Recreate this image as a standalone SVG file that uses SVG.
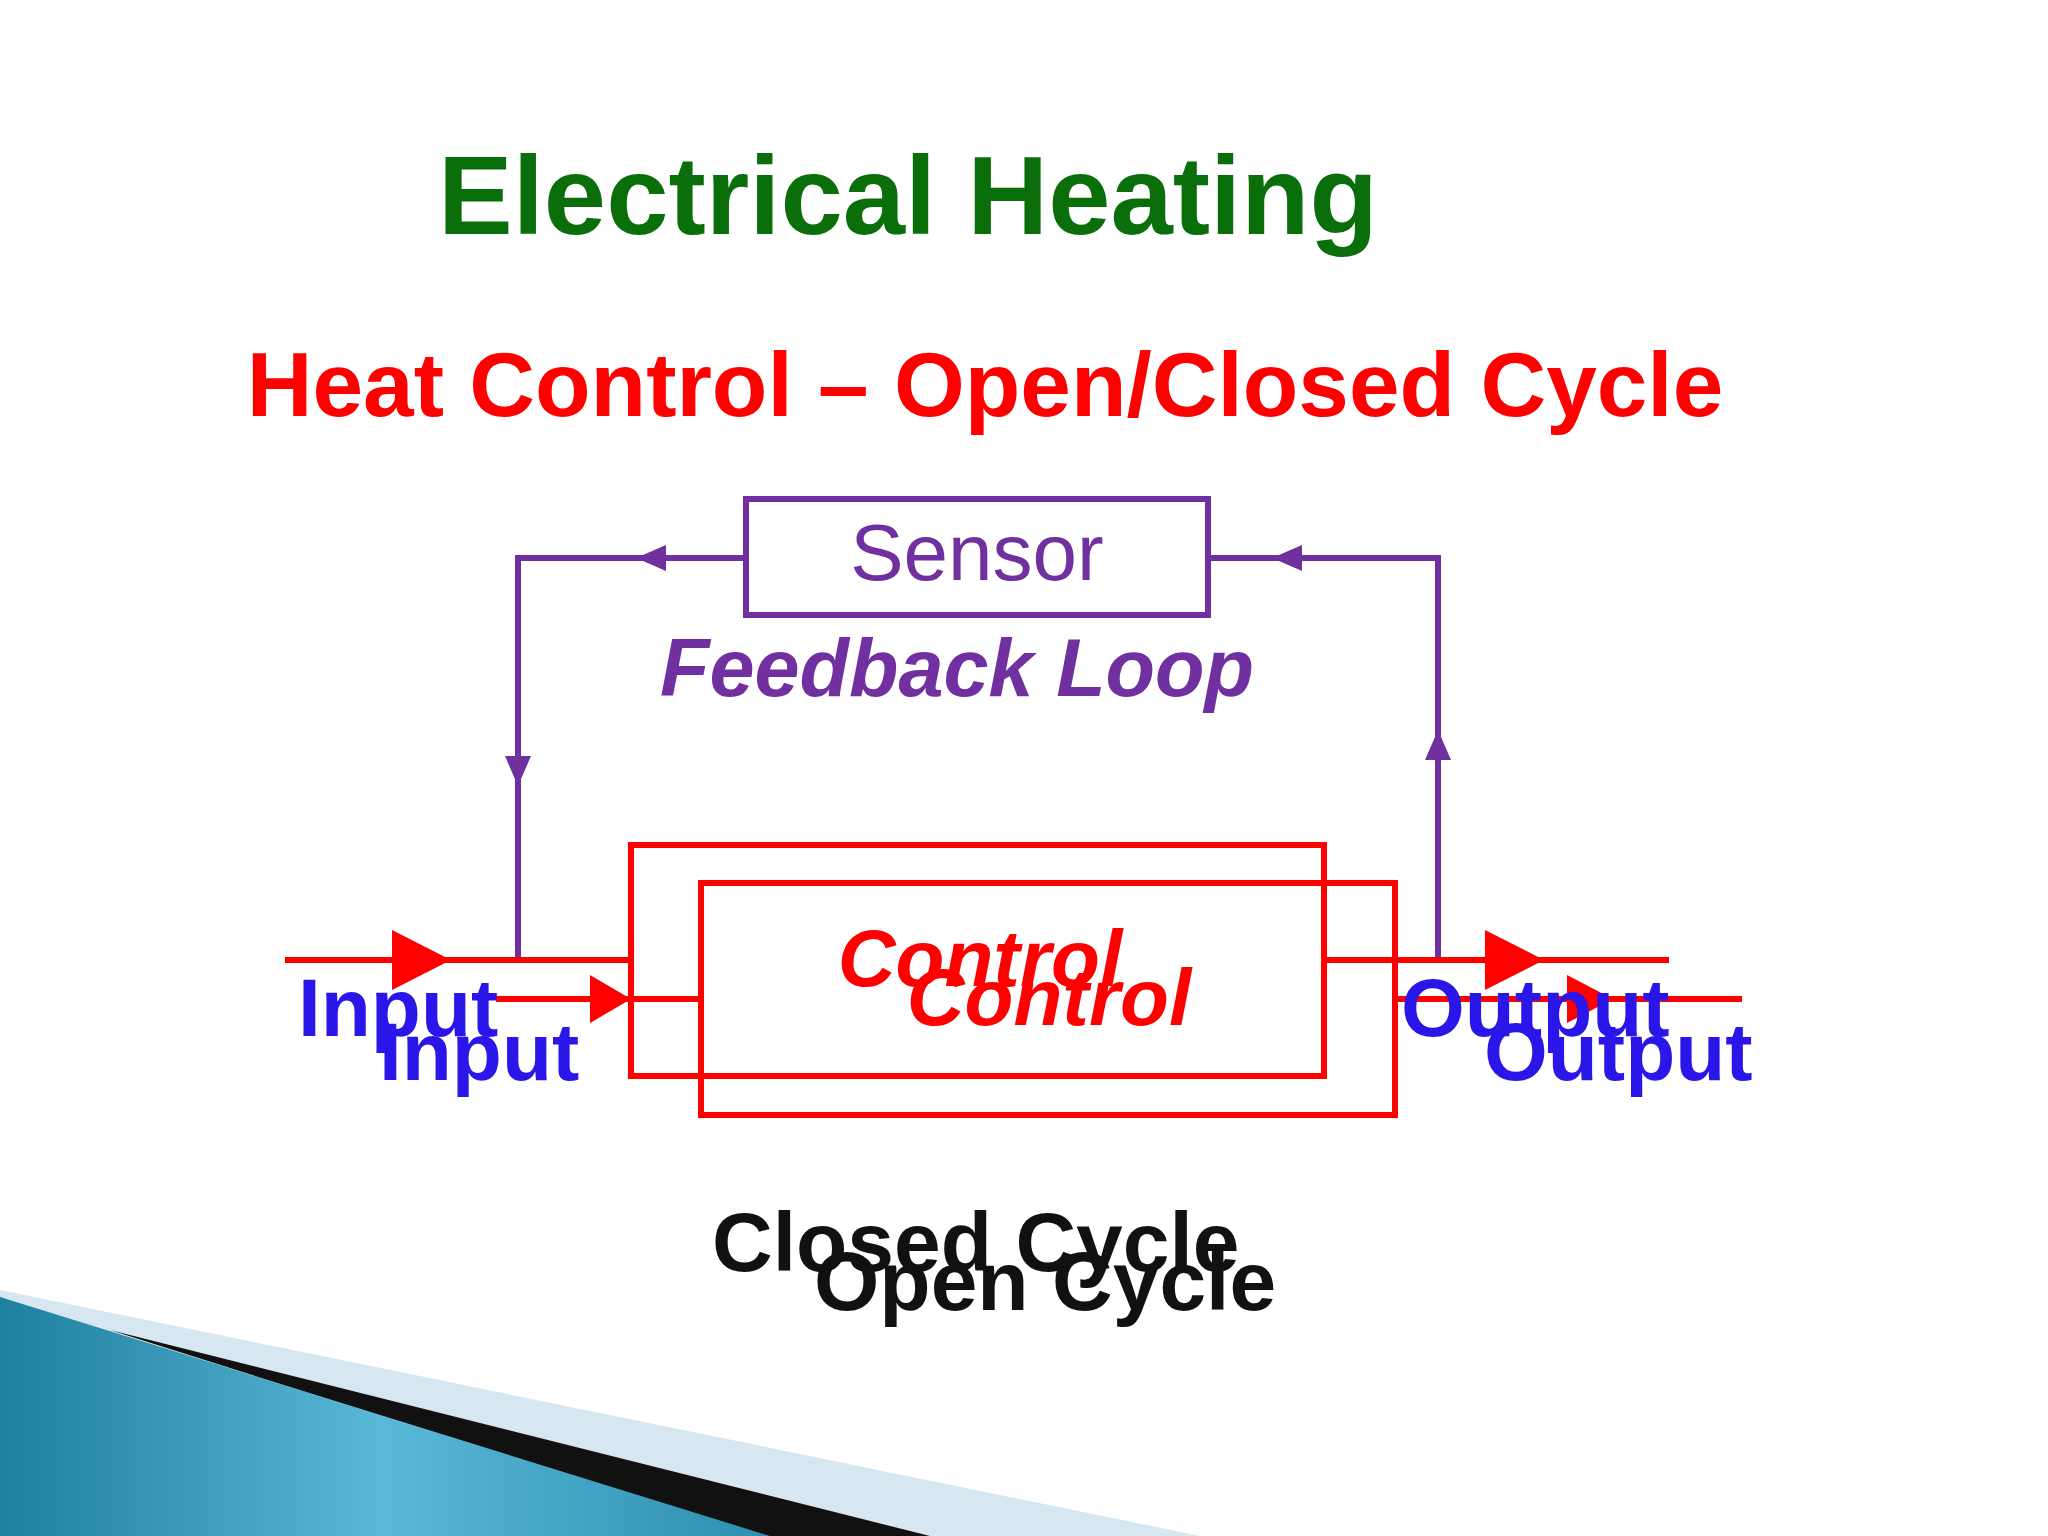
<svg xmlns="http://www.w3.org/2000/svg" width="2048" height="1536" viewBox="0 0 2048 1536">
<defs>
<style>
.p{stroke:#7030a0;stroke-width:6;fill:none}
.r{stroke:#ff0000;stroke-width:6;fill:none}
.t{font-family:"Liberation Sans",Arial,sans-serif;font-weight:bold}
.blue{fill:#2a16e8;font-size:82px}
.ctl{fill:#ff0000;font-size:80px;font-style:italic}
.cyc{fill:#111;font-size:84px}
</style>
<linearGradient id="g" x1="0" y1="0" x2="1" y2="0">
<stop offset="0" stop-color="#1f7f9e"/><stop offset="0.5" stop-color="#5ab8d8"/><stop offset="1" stop-color="#2d8fb0"/>
</linearGradient>
</defs>
<rect width="2048" height="1536" fill="#fff"/>
<polygon points="0,1290 1200,1536 0,1536" fill="#d6e7f2"/>
<polygon points="110,1330 930,1536 760,1536" fill="#111"/>
<polygon points="0,1297 770,1536 0,1536" fill="url(#g)"/>
<text class="t" x="908" y="234" text-anchor="middle" font-size="112" fill="#0a6e0a">Electrical Heating</text>
<text class="t" x="985" y="416" text-anchor="middle" font-size="91" fill="#ff0000">Heat Control – Open/Closed Cycle</text>
<g id="connectors">
<polyline class="p" points="746,558 518,558 518,960"/>
<polyline class="p" points="1208,558 1438,558 1438,960"/>
<polygon points="636,558 666,545 666,571" fill="#7030a0"/>
<polygon points="1272,558 1302,545 1302,571" fill="#7030a0"/>
<polygon points="518,786 505,756 531,756" fill="#7030a0"/>
<polygon points="1438,730 1425,760 1451,760" fill="#7030a0"/>
<line class="r" x1="285" y1="960" x2="631" y2="960"/>
<line class="r" x1="1324" y1="960" x2="1669" y2="960"/>
<polygon points="392,930 451,960 392,990" fill="#ff0000"/>
<polygon points="1485,930 1544,960 1485,990" fill="#ff0000"/>
<line class="r" x1="496" y1="999" x2="701" y2="999"/>
<line class="r" x1="1395" y1="999" x2="1742" y2="999"/>
<polygon points="590,975 631,999 590,1023" fill="#ff0000"/>
<polygon points="1567,975 1613,999 1567,1023" fill="#ff0000"/>
</g>
<g id="sensor">
<rect class="p" x="746" y="499" width="462" height="116" fill="#fff"/>
<text x="977" y="580" text-anchor="middle" font-family="Liberation Sans,Arial,sans-serif" font-size="80" fill="#7030a0">Sensor</text>
</g>
<text class="t" x="957" y="696" text-anchor="middle" font-size="81" font-style="italic" fill="#7030a0">Feedback Loop</text>
<g id="control-closed">
<rect class="r" x="631" y="845" width="693" height="231"/>
<text class="t ctl" x="980" y="986" text-anchor="middle">Control</text>
</g>
<g id="control-open">
<rect class="r" x="701" y="883" width="694" height="232"/>
<text class="t ctl" x="1049" y="1025" text-anchor="middle">Control</text>
</g>
<text class="t blue" x="298" y="1036">Input</text>
<text class="t blue" x="379" y="1080">Input</text>
<text class="t blue" x="1401" y="1036">Output</text>
<text class="t blue" x="1484" y="1080">Output</text>
<text class="t cyc" x="712" y="1271">Closed Cycle</text>
<text class="t cyc" x="814" y="1310">Open Cycle</text>
</svg>
